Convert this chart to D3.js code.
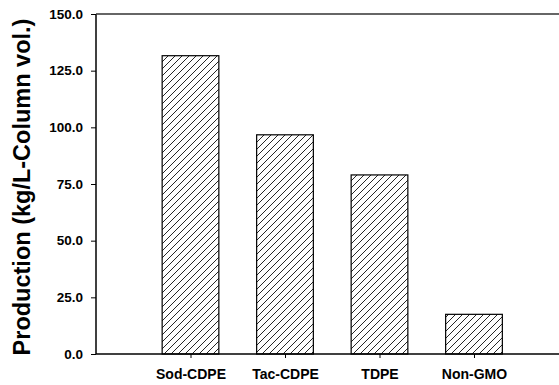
<!DOCTYPE html>
<html>
<head>
<meta charset="utf-8">
<script src="https://cdn.jsdelivr.net/npm/d3@7"></script>
<style>
  html, body { margin: 0; padding: 0; background: #fff; }
  svg { display: block; }
  text { font-family: Arial, "Liberation Sans", sans-serif; font-weight: bold; fill: #000; }
</style>
</head>
<body>
<script>
// Production per column volume for each purification process
const categories = ["Sod-CDPE", "Tac-CDPE", "TDPE", "Non-GMO"];
const production = [131.6, 96.7, 79.0, 17.5];
const yTickValues = [0, 25, 50, 75, 100, 125, 150];
const yTitle = "Production (kg/L-Column vol.)";

const W = 559, H = 385;
const plotLeft = 96, plotTop = 14, plotBottom = 354;

const svg = d3.select("body").append("svg")
  .attr("width", W).attr("height", H);

// Hatch pattern for the bars
const defs = svg.append("defs");
const pat = defs.append("pattern")
  .attr("id", "hatch")
  .attr("patternUnits", "userSpaceOnUse")
  .attr("width", 7).attr("height", 7);
pat.append("rect").attr("width", 7).attr("height", 7).attr("fill", "#fff");
pat.append("path")
  .attr("d", "M-1,8 L8,-1 M-4,4 L4,-4 M3,11 L11,3")
  .attr("stroke", "#000").attr("stroke-width", 0.85);

const y = d3.scaleLinear().domain([0, 150]).range([plotBottom, plotTop]);
const x = d3.scaleLinear().domain([0, categories.length + 1]).range([plotLeft, 568.5]);
const barW = (x(1) - x(0)) * 0.6;

// Bars
svg.append("g").selectAll("rect")
  .data(production)
  .join("rect")
  .attr("x", (d, i) => x(i + 1) - barW / 2)
  .attr("y", d => y(d))
  .attr("width", barW)
  .attr("height", d => y(0) - y(d))
  .attr("fill", "url(#hatch)")
  .attr("stroke", "#000")
  .attr("stroke-width", 1.2);

// Y axis
const yAxis = d3.axisLeft(y)
  .tickValues(yTickValues)
  .tickFormat(d3.format(".1f"))
  .tickSize(5)
  .tickPadding(8);
const gy = svg.append("g").attr("transform", `translate(${plotLeft},0)`).call(yAxis);
gy.select(".domain").remove();
gy.selectAll(".tick line").attr("stroke", "#000").attr("stroke-width", 1);
gy.selectAll(".tick text")
  .attr("font-size", 13.5)
  .attr("font-family", "Arial, 'Liberation Sans', sans-serif")
  .attr("font-weight", "bold");

// X axis ticks and labels
const xAxis = d3.axisBottom(x)
  .tickValues(categories.map((c, i) => i + 1))
  .tickFormat((d) => categories[d - 1])
  .tickSize(4)
  .tickPadding(11);
const gx = svg.append("g").attr("transform", `translate(0,${plotBottom})`).call(xAxis);
gx.select(".domain").remove();
gx.selectAll(".tick line").attr("stroke", "#000").attr("stroke-width", 1);
gx.selectAll(".tick text")
  .attr("font-size", 14)
  .attr("font-family", "Arial, 'Liberation Sans', sans-serif")
  .attr("font-weight", "bold");

// Frame lines: left, bottom and top
svg.append("line").attr("x1", plotLeft).attr("x2", plotLeft).attr("y1", plotTop).attr("y2", plotBottom)
  .attr("stroke", "#000").attr("stroke-width", 1.5);
svg.append("line").attr("x1", plotLeft).attr("x2", W).attr("y1", plotBottom).attr("y2", plotBottom)
  .attr("stroke", "#000").attr("stroke-width", 1.5);
svg.append("line").attr("x1", plotLeft).attr("x2", W).attr("y1", plotTop).attr("y2", plotTop)
  .attr("stroke", "#333").attr("stroke-width", 1.5);

// Y title
svg.append("text")
  .attr("transform", `translate(29.5,${(plotTop + plotBottom) / 2 + 3}) rotate(-90)`)
  .attr("text-anchor", "middle")
  .attr("font-size", 23.5)
  .text(yTitle);
</script>
</body>
</html>
